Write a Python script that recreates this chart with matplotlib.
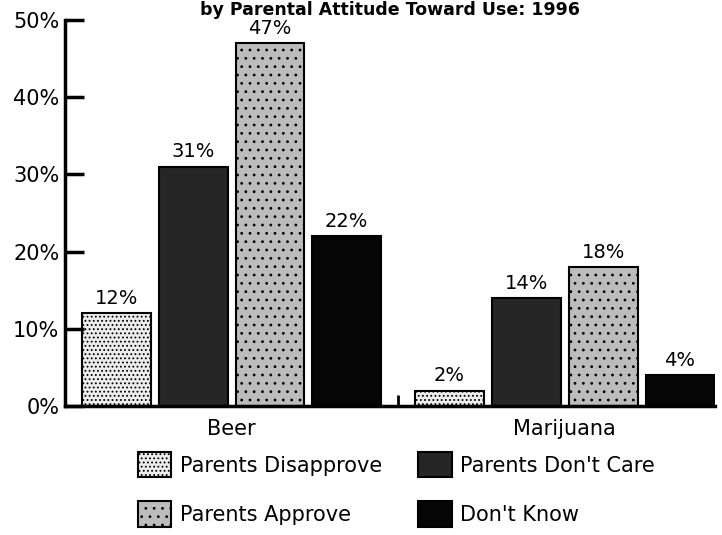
import numpy as np
import matplotlib.pyplot as plt

plt.rcParams['font.family'] = ['DejaVu Sans']
plt.rcParams['hatch.linewidth'] = 0.8

groups = ['Beer', 'Marijuana']
series = ['Parents Disapprove', "Parents Don't Care", 'Parents Approve', "Don't Know"]
values = {
    'Parents Disapprove': [12, 2],
    "Parents Don't Care": [31, 14],
    'Parents Approve': [47, 18],
    "Don't Know": [22, 4],
}
yticks = [0, 10, 20, 30, 40, 50]
title = 'by Parental Attitude Toward Use: 1996'

styles = {
    'Parents Disapprove': dict(color='#ececec', hatch='....'),
    "Parents Don't Care": dict(color='#262626', hatch=None),
    'Parents Approve': dict(color='#bcbcbc', hatch='..'),
    "Don't Know": dict(color='#050505', hatch=None),
}

fig = plt.figure(figsize=(7.22, 5.35), dpi=100)
ax = fig.add_axes([0.090, 0.241, 0.900, 0.722])

x = np.arange(len(groups))
step = 0.2305
width = 0.2066
handles = {}
for i, name in enumerate(series):
    pos = x + (i - 1.5) * step
    bars = ax.bar(pos, values[name], width, facecolor=styles[name]['color'],
                  hatch=styles[name]['hatch'], edgecolor='black', linewidth=1.5)
    handles[name] = bars
    for p, v in zip(pos, values[name]):
        ax.text(p, v + 0.7, f'{v}%', ha='center', va='bottom', fontsize=14)

ax.set_xlim(-0.5, 1.45)
ax.set_ylim(0, 50)
ax.set_yticks(yticks)
ax.set_yticklabels([f'{t}%' for t in yticks], fontsize=15)
ax.tick_params(axis='y', direction='in', length=14, width=2.5, pad=4)
ax.set_xticks(x)
ax.set_xticklabels(groups, fontsize=15)
ax.tick_params(axis='x', which='major', length=0, pad=9)
ax.set_xticks([0.5], minor=True)
ax.tick_params(axis='x', which='minor', direction='in', length=8, width=2)

for s in ['top', 'right']:
    ax.spines[s].set_visible(False)
for s in ['left', 'bottom']:
    ax.spines[s].set_linewidth(2.5)

fig.text(0.54, 0.999, title, ha='center', va='top', fontsize=12.5, fontweight='bold')

order = ['Parents Disapprove', 'Parents Approve', "Parents Don't Care", "Don't Know"]
fig.legend([handles[n] for n in order], order, loc='upper left', ncol=2,
           bbox_to_anchor=(0.191, 0.155), frameon=False, fontsize=15,
           borderpad=0, borderaxespad=0,
           handlelength=1.6, handleheight=1.5, columnspacing=1.75, labelspacing=1.15,
           handletextpad=0.4)

fig.savefig('out.png', dpi=100)
